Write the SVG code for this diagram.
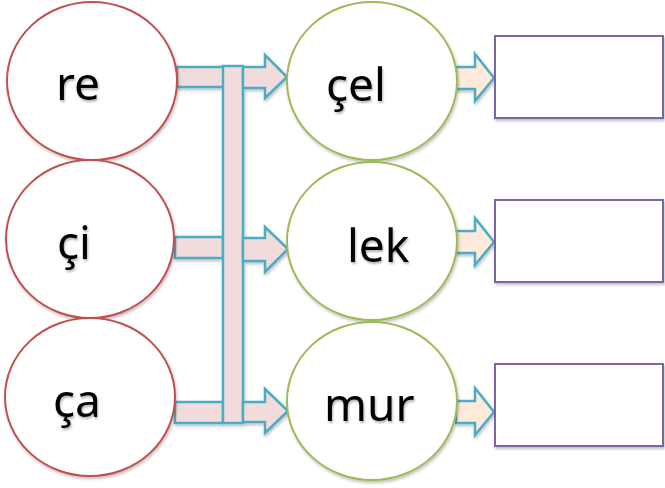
<svg xmlns="http://www.w3.org/2000/svg" width="665" height="488" viewBox="0 0 665 488">
<defs>
<filter id="sh" x="-10%" y="-10%" width="130%" height="130%">
<feDropShadow dx="1" dy="2" stdDeviation="1.5" flood-color="#000" flood-opacity="0.25"/>
</filter>
<filter id="tsh" x="-10%" y="-10%" width="130%" height="140%">
<feDropShadow dx="1" dy="2" stdDeviation="1.2" flood-color="#000" flood-opacity="0.3"/>
</filter>
</defs>
<style>
.red{fill:#fff;stroke:#C0504D;stroke-width:2}
.green{fill:#fff;stroke:#9BBB59;stroke-width:2}
.box{fill:#fff;stroke:#8064A2;stroke-width:2}
.pink{fill:#F2DCDB;stroke:#4BACC6;stroke-width:2.5;stroke-linejoin:miter}
.peach{fill:#FDEADA;stroke:#4BACC6;stroke-width:2.5;stroke-linejoin:miter}
.t{font-family:"Noto Sans","DejaVu Sans",sans-serif;font-size:46px;fill:#000}
</style>
<g id="connectors" filter="url(#sh)">
<rect class="pink" x="177" y="67" width="47" height="20"/>
<rect class="pink" x="175" y="237" width="48" height="21"/>
<rect class="pink" x="175" y="402" width="48" height="21"/>
<rect class="pink" x="223" y="66" width="20" height="357"/>
<polygon class="pink" points="243,67 265,67 265,55 287,77 265,98 265,88 243,88"/>
<polygon class="pink" points="243,238 265,238 265,227 288,249 265,272 265,261 243,261"/>
<polygon class="pink" points="243,402 265,402 265,389 288,411 265,433 265,422 243,422"/>
<polygon class="peach" points="456,67 475,67 475,54 494,78 475,101 475,89 456,89"/>
<polygon class="peach" points="456,231 475,231 475,218 494,242 475,265 475,253 456,253"/>
<polygon class="peach" points="456,401 475,401 475,388 494,412 475,435 475,423 456,423"/>
</g>
<g id="n-re" filter="url(#sh)"><ellipse class="red" cx="92" cy="81" rx="85" ry="79"/><text class="t" x="56" y="100" filter="url(#tsh)">re</text></g>
<g id="n-ci" filter="url(#sh)"><ellipse class="red" cx="90" cy="239" rx="84" ry="79"/><text class="t" x="57" y="259" filter="url(#tsh)">çi</text></g>
<g id="n-ca" filter="url(#sh)"><ellipse class="red" cx="90" cy="397" rx="85" ry="79"/><text class="t" x="53" y="417" filter="url(#tsh)">ça</text></g>
<g id="n-cel" filter="url(#sh)"><ellipse class="green" cx="372" cy="81" rx="85" ry="79"/><text class="t" x="326" y="101" filter="url(#tsh)">çel</text></g>
<g id="n-lek" filter="url(#sh)"><ellipse class="green" cx="372" cy="241" rx="85" ry="79"/><text class="t" x="347" y="262" filter="url(#tsh)">lek</text></g>
<g id="n-mur" filter="url(#sh)"><ellipse class="green" cx="372" cy="401" rx="85" ry="79"/><text class="t" x="324" y="421" filter="url(#tsh)">mur</text></g>
<g id="b1" filter="url(#sh)"><rect class="box" x="495" y="36" width="168" height="82"/></g>
<g id="b2" filter="url(#sh)"><rect class="box" x="495" y="200" width="168" height="82"/></g>
<g id="b3" filter="url(#sh)"><rect class="box" x="495" y="364" width="168" height="82"/></g>
</svg>
